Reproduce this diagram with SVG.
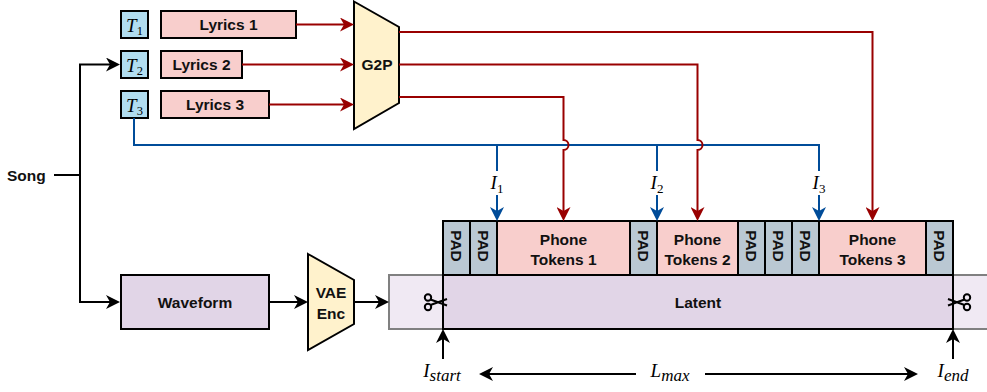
<svg xmlns="http://www.w3.org/2000/svg" width="987" height="392" viewBox="0 0 987 392">
<style>
.lbl{font-family:"Liberation Sans",Arial,sans-serif;font-weight:bold;font-size:15.5px;fill:#111;text-anchor:middle}
.math{font-family:"Liberation Serif","Times New Roman",serif;font-size:19px;fill:#000;text-anchor:middle}
.it{font-style:italic}
.box{stroke:#000;stroke-width:2}
.tbox{fill:#b1ddf0}
.lyr{fill:#f8cecc}
.yel{fill:#fff2cc}
.pur{fill:#e1d5e7}
.pad{fill:#bac8d3}
.red{fill:none;stroke:#990000;stroke-width:2}
.blue{fill:none;stroke:#004c99;stroke-width:2}
.blk{fill:none;stroke:#000;stroke-width:2}
</style>
<defs>
<marker id="aR" viewBox="0 0 14 14" refX="11" refY="7" markerWidth="14" markerHeight="14" markerUnits="userSpaceOnUse" orient="auto"><path d="M0,0 L14,7 L0,14 L4,7 Z" fill="#990000"/></marker>
<marker id="aB" viewBox="0 0 14 14" refX="11" refY="7" markerWidth="14" markerHeight="14" markerUnits="userSpaceOnUse" orient="auto"><path d="M0,0 L14,7 L0,14 L4,7 Z" fill="#004c99"/></marker>
<marker id="aK" viewBox="0 0 14 14" refX="11" refY="7" markerWidth="14" markerHeight="14" markerUnits="userSpaceOnUse" orient="auto"><path d="M0,0 L14,7 L0,14 L4,7 Z" fill="#000"/></marker>
</defs>

<g id="song"><text class="lbl" x="7" y="180.5" style="text-anchor:start">Song</text></g>

<g id="T1"><rect class="box tbox" x="121" y="11" width="27" height="27"/><text class="math" x="134.5" y="31.5"><tspan class="it" font-size="19">T</tspan><tspan font-size="12.5" dy="3.5">1</tspan></text></g>
<g id="T2"><rect class="box tbox" x="121" y="51" width="27" height="27"/><text class="math" x="134.5" y="71.5"><tspan class="it" font-size="19">T</tspan><tspan font-size="12.5" dy="3.5">2</tspan></text></g>
<g id="T3"><rect class="box tbox" x="121" y="91" width="27" height="27"/><text class="math" x="134.5" y="111.5"><tspan class="it" font-size="19">T</tspan><tspan font-size="12.5" dy="3.5">3</tspan></text></g>

<g id="lyrics1"><rect class="box lyr" x="161" y="11" width="135" height="27"/><text class="lbl" x="228.5" y="30">Lyrics 1</text></g>
<g id="lyrics2"><rect class="box lyr" x="161" y="51" width="81" height="27"/><text class="lbl" x="201.5" y="70">Lyrics 2</text></g>
<g id="lyrics3"><rect class="box lyr" x="161" y="91" width="108" height="27"/><text class="lbl" x="215" y="110">Lyrics 3</text></g>

<g id="g2p"><polygon class="box yel" points="354,1.5 399,27 399,103 354,129"/><text class="lbl" x="377" y="70">G2P</text></g>

<g id="waveform"><rect class="box pur" x="121" y="275" width="148" height="54"/><text class="lbl" x="195" y="307.5">Waveform</text></g>

<g id="vae"><polygon class="box yel" points="308,254 354,280 354,324 308,350"/><text class="lbl" x="331" y="298">VAE</text><text class="lbl" x="331" y="318.5">Enc</text></g>

<g id="latent-full"><rect x="389" y="275" width="602" height="54" fill="#f0e9f3" stroke="#808080" stroke-width="2"/></g>
<g id="latent"><rect class="box pur" x="443" y="275" width="510" height="54"/><text class="lbl" x="698" y="307.5">Latent</text></g>

<g id="tokens">
<g id="pad1"><rect class="box pad" x="443" y="221" width="27" height="54"/><text class="lbl" transform="translate(456.5,246) rotate(90)" x="0" y="5.5">PAD</text></g>
<g id="pad2"><rect class="box pad" x="470" y="221" width="27" height="54"/><text class="lbl" transform="translate(483.5,246) rotate(90)" x="0" y="5.5">PAD</text></g>
<g id="phone1"><rect class="box lyr" x="497" y="221" width="133" height="54"/><text class="lbl" x="563.5" y="244.5">Phone</text><text class="lbl" x="563.5" y="264.5">Tokens 1</text></g>
<g id="pad3"><rect class="box pad" x="630" y="221" width="27" height="54"/><text class="lbl" transform="translate(643.5,246) rotate(90)" x="0" y="5.5">PAD</text></g>
<g id="phone2"><rect class="box lyr" x="657" y="221" width="81" height="54"/><text class="lbl" x="697.5" y="244.5">Phone</text><text class="lbl" x="697.5" y="264.5">Tokens 2</text></g>
<g id="pad4"><rect class="box pad" x="738" y="221" width="27" height="54"/><text class="lbl" transform="translate(751.5,246) rotate(90)" x="0" y="5.5">PAD</text></g>
<g id="pad5"><rect class="box pad" x="765" y="221" width="27" height="54"/><text class="lbl" transform="translate(778.5,246) rotate(90)" x="0" y="5.5">PAD</text></g>
<g id="pad6"><rect class="box pad" x="792" y="221" width="27" height="54"/><text class="lbl" transform="translate(805.5,246) rotate(90)" x="0" y="5.5">PAD</text></g>
<g id="phone3"><rect class="box lyr" x="819" y="221" width="107" height="54"/><text class="lbl" x="872.5" y="244.5">Phone</text><text class="lbl" x="872.5" y="264.5">Tokens 3</text></g>
<g id="pad7"><rect class="box pad" x="926" y="221" width="27" height="54"/><text class="lbl" transform="translate(939.5,246) rotate(90)" x="0" y="5.5">PAD</text></g>
</g>

<g id="scissors-left" fill="none" stroke="#000" stroke-width="2">
<circle cx="428" cy="297.5" r="3.2"/><circle cx="428" cy="307" r="3.2"/>
<path d="M430.5,299.5 L447,305.5 M430.5,305 L447,299"/>
</g>
<g id="scissors-right" fill="none" stroke="#000" stroke-width="2">
<circle cx="967" cy="297.5" r="3.2"/><circle cx="967" cy="307" r="3.2"/>
<path d="M964.5,299.5 L948,305.5 M964.5,305 L948,299"/>
</g>

<g id="connectors">
<path class="blk" d="M54,175 H80"/>
<path class="blk" d="M80,175 V64.5 H117" marker-end="url(#aK)"/>
<path class="blk" d="M80,175 V302 H117" marker-end="url(#aK)"/>
<path class="red" d="M296,24.5 H351" marker-end="url(#aR)"/>
<path class="red" d="M242,64.5 H351" marker-end="url(#aR)"/>
<path class="red" d="M269,104.5 H351" marker-end="url(#aR)"/>
<path class="blue" d="M134,118 V145 H819 V171"/>
<path class="blue" d="M497,145 V171"/>
<path class="blue" d="M657,145 V171"/>
<path class="blue" d="M497,195 V218" marker-end="url(#aB)"/>
<path class="blue" d="M657,195 V218" marker-end="url(#aB)"/>
<path class="blue" d="M819,195 V218" marker-end="url(#aB)"/>
<path class="red" d="M399,32 H872.5 V218" marker-end="url(#aR)"/>
<path class="red" d="M399,64.5 H697.5 V140 A5,5 0 0 1 697.5,150 V218" marker-end="url(#aR)"/>
<path class="red" d="M399,97 H563.5 V140 A5,5 0 0 1 563.5,150 V218" marker-end="url(#aR)"/>
<path class="blk" d="M269,302 H305" marker-end="url(#aK)"/>
<path class="blk" d="M354,302 H386" marker-end="url(#aK)"/>
<path class="blk" d="M443,359 V332" marker-end="url(#aK)"/>
<path class="blk" d="M953,359 V332" marker-end="url(#aK)"/>
<path class="blk" d="M636,374 H482" marker-end="url(#aK)"/>
<path class="blk" d="M705,374 H915" marker-end="url(#aK)"/>
</g>

<g id="labels">
<text class="math" x="497" y="189"><tspan class="it">I</tspan><tspan font-size="13" dy="4">1</tspan></text>
<text class="math" x="657" y="189"><tspan class="it">I</tspan><tspan font-size="13" dy="4">2</tspan></text>
<text class="math" x="819" y="189"><tspan class="it">I</tspan><tspan font-size="13" dy="4">3</tspan></text>
<text class="math" x="442" y="377" font-size="20"><tspan class="it">I</tspan><tspan class="it" font-size="17" dy="4">start</tspan></text>
<text class="math" x="670" y="377" font-size="20"><tspan class="it">L</tspan><tspan class="it" font-size="17" dy="4">max</tspan></text>
<text class="math" x="953" y="377" font-size="20"><tspan class="it">I</tspan><tspan class="it" font-size="17" dy="4">end</tspan></text>
</g>
</svg>
